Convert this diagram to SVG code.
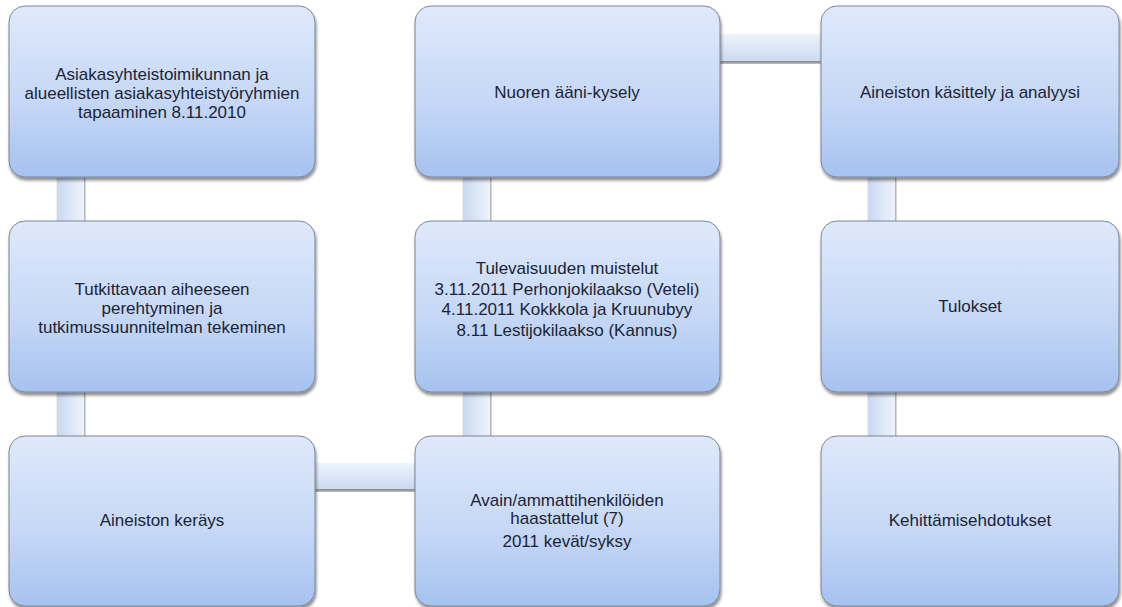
<svg xmlns="http://www.w3.org/2000/svg" width="1122" height="607" viewBox="0 0 1122 607">
<defs>
<linearGradient id="nodeGrad" x1="0" y1="0" x2="0" y2="1">
<stop offset="0" stop-color="#dfe9fb"/>
<stop offset="0.55" stop-color="#c6d8f6"/>
<stop offset="1" stop-color="#a6c2f0"/>
</linearGradient>
<linearGradient id="vBar" x1="0" y1="0" x2="1" y2="0">
<stop offset="0" stop-color="#c9d8f1"/>
<stop offset="1" stop-color="#eef3fb"/>
</linearGradient>
<linearGradient id="hBar" x1="0" y1="0" x2="0" y2="1">
<stop offset="0" stop-color="#eef3fb"/>
<stop offset="1" stop-color="#cbdaf2"/>
</linearGradient>
<filter id="shadow" x="-5%" y="-5%" width="112%" height="115%">
<feGaussianBlur in="SourceAlpha" stdDeviation="1.6"/>
<feOffset dx="1" dy="2.5" result="b"/>
<feComponentTransfer><feFuncA type="linear" slope="0.45"/></feComponentTransfer>
<feMerge><feMergeNode/><feMergeNode in="SourceGraphic"/></feMerge>
</filter>
</defs>
<style>
.node rect { fill: url(#nodeGrad); stroke: #7a8699; stroke-width: 1; filter: url(#shadow); }
.node text { font-family: "Liberation Sans", Arial, sans-serif; font-size: 17px; fill: #1c2433; text-anchor: middle; }
.vbar { fill: url(#vBar); filter: url(#shadow); }
.hbar { fill: url(#hBar); filter: url(#shadow); }
</style>
<rect width="1122" height="607" fill="#ffffff"/>
<g id="connectors">
<rect class="vbar" x="57" y="170" width="27" height="56"/>
<rect class="vbar" x="57" y="385" width="27" height="56"/>
<rect class="hbar" x="310" y="463" width="110" height="26"/>
<rect class="vbar" x="463" y="170" width="27" height="56"/>
<rect class="vbar" x="463" y="385" width="27" height="56"/>
<rect class="hbar" x="715" y="34" width="112" height="27"/>
<rect class="vbar" x="868" y="170" width="27" height="56"/>
<rect class="vbar" x="868" y="385" width="27" height="56"/>
</g>
<g id="n1" class="node">
<rect x="9" y="6" width="306" height="171" rx="16"/>
<text x="162" y="80">Asiakasyhteistoimikunnan ja</text>
<text x="162" y="99">alueellisten asiakasyhteistyöryhmien</text>
<text x="162" y="118">tapaaminen 8.11.2010</text>
</g>
<g id="n2" class="node">
<rect x="9" y="221" width="306" height="171" rx="16"/>
<text x="162" y="295">Tutkittavaan aiheeseen</text>
<text x="162" y="314">perehtyminen ja</text>
<text x="162" y="333">tutkimussuunnitelman tekeminen</text>
</g>
<g id="n3" class="node">
<rect x="9" y="436" width="306" height="170" rx="16"/>
<text x="162" y="526">Aineiston keräys</text>
</g>
<g id="n4" class="node">
<rect x="415" y="6" width="305" height="171" rx="16"/>
<text x="567" y="98">Nuoren ääni-kysely</text>
</g>
<g id="n5" class="node">
<rect x="415" y="221" width="305" height="171" rx="16"/>
<text x="567" y="274">Tulevaisuuden muistelut</text>
<text x="567" y="295">3.11.2011 Perhonjokilaakso (Veteli)</text>
<text x="567" y="315">4.11.2011 Kokkkola ja Kruunubyy</text>
<text x="567" y="336">8.11 Lestijokilaakso (Kannus)</text>
</g>
<g id="n6" class="node">
<rect x="415" y="436" width="305" height="170" rx="16"/>
<text x="567" y="506">Avain/ammattihenkilöiden</text>
<text x="567" y="524">haastattelut (7)</text>
<text x="567" y="547">2011 kevät/syksy</text>
</g>
<g id="n7" class="node">
<rect x="821" y="6" width="298" height="171" rx="16"/>
<text x="970" y="98">Aineiston käsittely ja analyysi</text>
</g>
<g id="n8" class="node">
<rect x="821" y="221" width="298" height="171" rx="16"/>
<text x="970" y="312">Tulokset</text>
</g>
<g id="n9" class="node">
<rect x="821" y="436" width="298" height="170" rx="16"/>
<text x="970" y="526">Kehittämisehdotukset</text>
</g>
</svg>
